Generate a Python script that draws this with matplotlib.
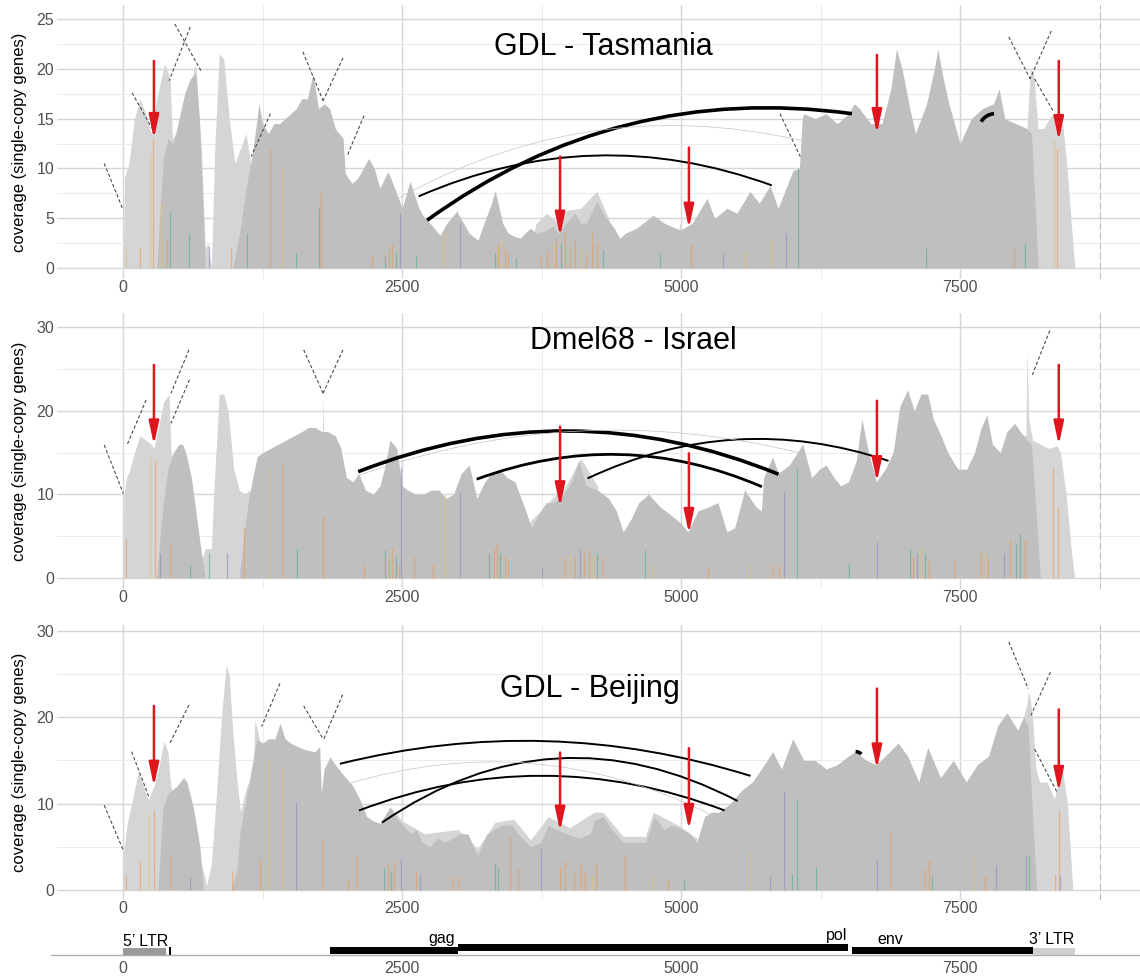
import matplotlib
matplotlib.use("Agg")
import matplotlib.pyplot as plt
from matplotlib.patches import FancyArrowPatch, Rectangle

plt.rcParams['font.family'] = ['Liberation Sans', 'DejaVu Sans']

# coverage along the element: (position bp, coverage)
# dark = uniquely placed reads, light = all reads
tas_dark = [(0, 0), (300, 0), (330, 6), (360, 11), (400, 13), (450, 12.5), (500, 15), (550, 17.5), (600, 19),
            (650, 19.5), (680, 15), (700, 10), (735, 0), (980, 0), (1000, 1), (1050, 4), (1100, 8), (1150, 11),
            (1200, 15), (1215, 16.5), (1250, 14.5), (1300, 13.5), (1350, 14.5), (1400, 14.5), (1450, 15),
            (1500, 15.5), (1550, 16), (1600, 17), (1650, 17), (1700, 19.5), (1750, 16), (1800, 16.5), (1850, 16),
            (1900, 14), (1970, 13), (1990, 9.5), (2050, 8.5), (2100, 9), (2150, 10), (2200, 11), (2250, 10),
            (2300, 8), (2373, 9.7), (2450, 7.5), (2500, 6), (2570, 8.7), (2650, 6),
            (2700, 5), (2750, 4.5), (2839, 3.3), (2900, 4.5), (2990, 5.7), (3050, 4.5),
            (3100, 3.5), (3180, 2.8), (3250, 5), (3300, 6.5), (3333, 7.8), (3400, 4.5), (3450, 3.5),
            (3500, 3.2), (3556, 3.0), (3600, 3.5), (3650, 4), (3700, 3.5), (3795, 3.8), (3850, 4.2),
            (3900, 3.5), (3975, 4.6), (4050, 5.5), (4100, 4.5), (4150, 4.5), (4244, 6.7),
            (4300, 5.5), (4400, 4), (4452, 3.0), (4500, 3.5), (4600, 4), (4750, 5.3), (4850, 4.5), (4990, 3.8),
            (5100, 4.5), (5232, 7.0), (5300, 5), (5411, 6.0), (5500, 5.5), (5617, 7.7), (5700, 6.5),
            (5797, 8.3), (5869, 6.0), (5940, 8), (6003, 9.8), (6060, 10), (6085, 15), (6100, 15.5), (6200, 15),
            (6300, 15.5), (6400, 14.5), (6500, 15.5), (6550, 16.5), (6600, 16), (6700, 14.5), (6800, 14.5),
            (6880, 18), (6930, 22), (6980, 20), (7050, 16), (7100, 13.5), (7200, 16.5), (7270, 20), (7300, 22),
            (7350, 19), (7400, 16.5), (7500, 12.5), (7600, 15), (7700, 16), (7800, 16.5), (7850, 18), (7900, 15),
            (8000, 14.5), (8100, 14), (8140, 13.5), (8200, 0), (8530, 0)]
tas_light = [(0, 0), (10, 9), (50, 10.5), (100, 15), (150, 17), (200, 15.5), (250, 13.5), (300, 17), (370, 20.5),
             (420, 19), (440, 13), (470, 13.5), (500, 14), (600, 18.5), (650, 20.5), (700, 12), (735, 2),
             (760, 2.5), (790, 0), (820, 12), (860, 21.5), (900, 21), (950, 15), (1000, 10.5), (1050, 12),
             (1100, 13.5), (1150, 10), (1200, 12.5), (1250, 0), (2900, 0), (2990, 6), (3080, 0), (3600, 0),
             (3700, 4.5), (3795, 5.5), (3900, 4.5), (3975, 5.8), (4100, 6), (4244, 7.7), (4350, 5), (4420, 0),
             (4900, 0), (4990, 4.5), (5080, 0), (8050, 0), (8100, 14), (8130, 20), (8160, 19.5),
             (8200, 14), (8250, 14), (8300, 15), (8335, 15.5), (8380, 13.5), (8420, 14.5), (8460, 10),
             (8500, 4), (8530, 0)]

isr_dark = [(0, 0), (300, 0), (330, 5), (360, 9), (400, 13), (450, 15), (500, 16), (530, 16), (560, 15),
            (610, 12), (660, 7), (700, 3), (736, 0), (1038, 0), (1080, 5), (1130, 10), (1200, 14.5), (1250, 15),
            (1320, 15.5), (1390, 16), (1460, 16.5), (1530, 17), (1600, 17.5), (1660, 18), (1720, 18),
            (1780, 17.5), (1830, 17.5), (1900, 17), (1950, 15.5), (2000, 12), (2060, 11.5), (2110, 12.5),
            (2170, 10.5), (2240, 10), (2300, 11), (2340, 13), (2390, 16.5), (2450, 15.5), (2500, 11),
            (2550, 10.5), (2620, 10), (2690, 10), (2760, 10.5), (2830, 10.5), (2890, 9.5), (2960, 10),
            (3030, 12.5), (3100, 13.5), (3170, 9.5), (3240, 11.5), (3300, 12.5), (3370, 13), (3440, 12),
            (3510, 11.5), (3580, 9), (3660, 6), (3720, 7.5), (3790, 9), (3850, 9), (3920, 9.5), (4020, 11.5),
            (4080, 14), (4150, 11), (4250, 10.5), (4350, 9.5), (4420, 8), (4480, 5.5), (4550, 7), (4620, 9),
            (4710, 10), (4810, 8.5), (4910, 7.5), (5000, 6.5), (5060, 5.5), (5150, 8), (5250, 8.5), (5330, 9),
            (5410, 5.5), (5480, 6), (5570, 10.5), (5670, 8.5), (5720, 8), (5740, 12), (5820, 14.5),
            (5870, 12.5), (5970, 13.5), (6090, 16), (6170, 12), (6240, 13), (6300, 13.5), (6370, 12),
            (6430, 11), (6500, 11.5), (6570, 14), (6620, 19), (6680, 15), (6750, 11.5), (6830, 13), (6900, 15),
            (6960, 20.5), (7030, 22.5), (7090, 20), (7150, 22), (7210, 22), (7260, 19), (7330, 17), (7390, 15),
            (7480, 13), (7560, 13), (7630, 15), (7690, 18), (7740, 19.5), (7790, 16), (7860, 15), (7920, 17.5),
            (7990, 18.5), (8040, 17.5), (8100, 16.5), (8140, 16), (8220, 0), (8530, 0)]
isr_light = [(0, 0), (5, 10), (30, 12), (60, 13), (100, 15), (150, 17), (200, 16.5), (250, 16), (275, 15.5),
             (300, 17), (360, 21), (410, 22), (428, 15), (450, 14), (700, 2), (736, 3.5), (790, 3.5), (810, 10),
             (860, 22), (900, 22), (940, 20), (990, 13), (1040, 10.5), (1090, 10), (1130, 10.5), (1180, 0),
             (1760, 0), (1785, 17), (1791, 22), (1797, 17), (1820, 0), (3600, 0), (3650, 6.8), (3850, 9.6),
             (3950, 10.6), (4100, 14.3), (4250, 11), (4330, 0), (4600, 0), (4700, 10.5), (4800, 0),
             (5500, 0), (5570, 11), (5620, 0), (7950, 0), (8000, 17.5), (8090, 17),
             (8100, 27.3), (8115, 19), (8150, 16.5), (8220, 16), (8290, 15.5), (8370, 15.8), (8400, 15),
             (8450, 10), (8500, 3), (8525, 0)]

bei_dark = [(0, 0), (310, 0), (335, 5), (357, 9.6), (401, 11.2), (480, 12), (540, 13), (570, 12.5), (627, 9.6),
            (687, 5), (717, 0), (966, 0), (1020, 2.5), (1046, 6.6), (1100, 10.5), (1136, 13.1), (1196, 17.4),
            (1250, 17), (1300, 17.5), (1360, 17.5), (1405, 19.3), (1450, 17.5), (1500, 17), (1560, 16.6),
            (1640, 16.2), (1720, 16), (1760, 16.6), (1775, 11.2), (1800, 14), (1853, 15.4), (1900, 14.5),
            (1960, 13.5), (2060, 12), (2120, 10.5), (2182, 8.5), (2240, 8), (2301, 7.7), (2391, 9.6),
            (2439, 8.5), (2507, 7.5), (2576, 6.5), (2627, 7),
            (2678, 5.5), (2747, 5), (2815, 6), (2884, 5.5), (2952, 6), (3021, 6.5), (3089, 6.5), (3175, 4),
            (3261, 6.5), (3329, 7), (3398, 7.5), (3483, 7.5), (3569, 6), (3654, 5), (3740, 5.5), (3809, 7.5),
            (3877, 7), (3980, 6.5), (4083, 6), (4185, 6.5), (4220, 8), (4300, 8.5), (4380, 7), (4480, 5.5),
            (4580, 5.5), (4680, 5.5), (4760, 8.5), (4845, 7), (4910, 7.5), (5010, 7), (5076, 6.5), (5140, 5.5),
            (5210, 8.5), (5270, 9), (5340, 9), (5440, 10), (5540, 11.5), (5640, 12.5), (5720, 14), (5820, 16),
            (5900, 14), (6000, 17.5), (6100, 15), (6200, 15), (6300, 14), (6400, 14.5), (6500, 15.5),
            (6560, 16), (6660, 15), (6750, 14.5), (6830, 15.5), (6945, 17), (7030, 15.5), (7130, 12.5),
            (7210, 16.5), (7325, 13), (7440, 15), (7555, 12.5), (7655, 14.5), (7755, 15.5), (7837, 19),
            (7920, 20.5), (8018, 18.5), (8068, 20), (8110, 19), (8185, 0), (8530, 0)]
bei_light = [(0, 0), (5, 4.6), (40, 8), (75, 10), (135, 13.7), (180, 12), (224, 10.4), (274, 12),
             (315, 14), (365, 17.2), (400, 16), (418, 13), (450, 10), (700, 3), (730, 1.5), (747, 0.5), (790, 3),
             (829, 10), (880, 20), (921, 26), (949, 25), (983, 18), (1017, 13), (1051, 9), (1086, 11),
             (1120, 12.5), (1154, 9), (1180, 19.7), (1212, 18), (1240, 16), (1290, 0), (2330, 0), (2400, 9.5),
             (2500, 8), (2700, 6.5), (3000, 7), (3175, 4.8), (3330, 7.8), (3500, 8.2), (3650, 5.8), (3810, 8.5),
             (4000, 7.2), (4220, 9), (4300, 9), (4480, 6.2), (4680, 6.2), (4750, 9), (5000, 7.3), (5140, 6),
             (5200, 0), (8000, 0), (8068, 20), (8100, 21.5), (8111, 23), (8130, 22), (8150, 20), (8180, 14),
             (8214, 12.5), (8280, 12.5), (8346, 10.5), (8412, 14.5), (8462, 10), (8511, 0)]

# variant frequencies: (position, coverage, base class)
tas_snp = [(24, 2, 'y'), (147, 2, 'o'), (240, 11.5, 'y'), (270, 13, 'o'), (342, 6.5, 'y'), (394, 3, 'o'),
           (418, 5.5, 'g'), (593, 3.5, 'g'), (770, 2.2, 'p'), (968, 2, 'o'), (1113, 3.5, 'g'), (1319, 12, 'o'),
           (1421, 10, 'y'), (1552, 1.5, 'g'), (1757, 6, 'g'), (1774, 7.5, 'o'), (2226, 1.3, 'o'),
           (2350, 1.2, 'g'), (2380, 1.8, 'o'), (2410, 2.5, 'o'), (2440, 1.5, 'g'), (2483, 5.5, 'p'),
           (2620, 1.2, 'g'), (2870, 3.5, 'y'), (3014, 4.5, 'p'), (3330, 1.5, 'g'), (3360, 2.5, 'o'),
           (3390, 3, 'y'), (3420, 2, 'o'), (3450, 1.5, 'o'), (3520, 1, 'g'), (3740, 1.2, 'o'), (3800, 1.8, 'o'),
           (3850, 2.5, 'y'), (3880, 3, 'o'), (3920, 2.5, 'g'), (3960, 3.5, 'o'), (4000, 2, 'o'), (4050, 3, 'o'),
           (4100, 2, 'y'), (4150, 1.5, 'o'), (4200, 3.5, 'o'), (4250, 2.5, 'o'), (4300, 1.8, 'g'),
           (4811, 1.5, 'g'), (5093, 2.5, 'o'), (5374, 1.5, 'p'), (5573, 1.5, 'y'), (5803, 3, 'y'),
           (5936, 3.5, 'p'), (6045, 10, 'g'), (7192, 2, 'g'), (7986, 2, 'o'), (8085, 2.5, 'g'),
           (8343, 13, 'y'), (8366, 12, 'o')]
isr_snp = [(24, 4.7, 'o'), (240, 14.5, 'y'), (281, 14, 'o'), (325, 3, 'p'), (418, 4.3, 'o'), (600, 1.5, 'g'),
           (770, 3, 'g'), (932, 3, 'p'), (1079, 6, 'o'), (1319, 13, 'y'), (1421, 13.5, 'o'), (1558, 3.5, 'g'),
           (1791, 7.5, 'o'), (2158, 1.5, 'o'), (2346, 3.3, 'g'), (2380, 2.5, 'o'), (2410, 3.5, 'o'),
           (2440, 2.5, 'g'), (2470, 1.5, 'o'), (2493, 13.3, 'p'), (2610, 2.5, 'o'), (2774, 1.5, 'o'),
           (2884, 10, 'y'), (3021, 10.3, 'p'), (3280, 3, 'g'), (3320, 3.5, 'o'), (3350, 4, 'o'), (3380, 3, 'g'),
           (3420, 2.5, 'o'), (3450, 2, 'o'), (3750, 1.3, 'p'), (3960, 2.5, 'o'), (4000, 3, 'y'),
           (4050, 2.5, 'o'), (4090, 3.5, 'p'), (4130, 3, 'o'), (4170, 3.5, 'o'), (4210, 2.5, 'y'),
           (4250, 3, 'g'), (4290, 2.5, 'o'), (4676, 3.3, 'g'), (4749, 1.5, 'y'), (5245, 1.3, 'o'),
           (5625, 1.5, 'y'), (5823, 1.5, 'o'), (5880, 1.5, 'o'), (5923, 10.3, 'p'), (6039, 13, 'g'),
           (6501, 1.7, 'g'), (6756, 4.3, 'p'), (7048, 3.5, 'g'), (7080, 2.5, 'o'), (7110, 3, 'p'),
           (7150, 3.5, 'y'), (7190, 3, 'g'), (7220, 2, 'o'), (7444, 2.3, 'o'), (7692, 3, 'o'), (7720, 3, 'y'),
           (7750, 2.5, 'o'), (7890, 3, 'p'), (7950, 4.5, 'o'), (8000, 4, 'g'), (8040, 5.2, 'g'),
           (8080, 4.5, 'o'), (8337, 13.3, 'o'), (8380, 8.5, 'o')]
bei_snp = [(24, 1.7, 'o'), (151, 3.3, 'o'), (229, 8.9, 'y'), (274, 9.3, 'o'), (418, 3.9, 'o'), (600, 1.5, 'p'),
           (973, 2.1, 'o'), (1223, 3.7, 'o'), (1308, 15, 'y'), (1421, 14.3, 'y'), (1548, 10.2, 'p'),
           (1781, 5.8, 'o'), (2010, 1.2, 'o'), (2096, 3.9, 'o'), (2340, 2.5, 'g'), (2370, 3, 'o'),
           (2400, 2.2, 'g'), (2430, 3.4, 'o'), (2490, 3.5, 'p'), (2627, 2.3, 'o'), (2661, 1.9, 'p'),
           (2955, 1.5, 'o'), (3000, 1.5, 'o'), (3329, 3.1, 'g'), (3363, 2.7, 'g'), (3466, 6.2, 'o'),
           (3534, 2.7, 'o'), (3740, 4.8, 'p'), (3910, 2.5, 'o'), (3960, 3.5, 'o'), (4040, 2, 'o'),
           (4100, 3, 'o'), (4140, 2, 'o'), (4200, 1.8, 'y'), (4240, 3, 'o'), (4501, 4, 'o'), (4745, 1.7, 'y'),
           (4878, 1.2, 'o'), (5026, 1.2, 'g'), (5628, 4.5, 'y'), (5794, 1.5, 'p'), (5919, 11.4, 'p'),
           (5992, 1.9, 'g'), (6042, 10.5, 'g'), (6210, 2.7, 'g'), (6756, 3.5, 'p'), (6872, 6.8, 'o'),
           (7190, 2.5, 'o'), (7220, 3.5, 'o'), (7250, 1.5, 'g'), (7622, 3.9, 'y'), (7722, 1.6, 'o'),
           (7821, 2.9, 'p'), (8092, 4.1, 'p'), (8118, 3.9, 'g'), (8350, 1.9, 'o'), (8383, 9.3, 'o'),
           (8400, 1.6, 'p')]

# split reads joining two positions: (start, cov, end, cov)
tas_arcs = [(2723, 4.8, 6531, 15.5), (2648, 7.2, 5813, 8.3), (2312, 6.0, 6085, 12.8), (7689, 14.7, 7804, 15.5)]
isr_arcs = [(2106, 12.7, 5873, 12.4), (3168, 11.8, 5724, 10.9), (4161, 11.9, 6859, 14.0), (2100, 12.2, 6050, 15.0)]
bei_arcs = [(1942, 14.6, 5622, 13.2), (2113, 9.2, 5390, 9.2), (2319, 7.8, 5506, 10.3), (6564, 16.0, 6614, 15.7),
            (1990, 12.2, 5300, 8.5)]

# insertion breakpoints (dashed pointers)
tas_dash = [(-171, 10.5, -7, 6.0), (79, 17.6, 274, 13.7), (462, 24.5, 702, 19.7), (600, 24.2, 411, 18.8),
            (1610, 21.7, 1791, 16.8), (1969, 21.1, 1791, 16.8), (2158, 15.3, 2004, 11.2), (1319, 15.5, 1147, 11.2),
            (5886, 15.5, 6068, 11.2), (7937, 23.2, 8128, 19.0), (8317, 23.8, 8128, 19.0), (8168, 19.0, 8333, 15.8)]
isr_dash = [(-171, 15.9, 0, 10.1), (205, 21.3, 34, 15.9), (589, 27.3, 428, 22.1), (593, 23.7, 428, 18.5),
            (1617, 27.3, 1791, 22.1), (1969, 27.3, 1791, 22.1), (8304, 29.6, 8148, 24.3)]
bei_dash = [(-171, 9.8, 0, 4.6), (75, 16, 229, 10.8), (589, 21.4, 418, 17), (1617, 21.3, 1795, 17.4),
            (1966, 22.6, 1795, 17.4), (1404, 23.9, 1240, 18.9), (7937, 28.7, 8112, 23.3), (8310, 25.2, 8135, 20.2),
            (8168, 16.3, 8366, 11.4)]

# marked sites (red arrows)
arrow_pos = [275, 3915, 5070, 6755, 8385]
tas_arrow_top = [20.8, 11.2, 12.1, 21.4, 20.8]
tas_arrow_tip = [13.0, 3.2, 4.0, 13.5, 12.8]
isr_arrow_top = [25.5, 18.1, 14.9, 21.2, 25.5]
isr_arrow_tip = [15.9, 8.5, 5.3, 11.5, 15.9]
bei_arrow_top = [21.3, 15.9, 16.4, 23.3, 20.9]
bei_arrow_tip = [12.0, 6.8, 7.0, 14.0, 11.4]

# element annotation
gene_names = ['5\u2019 LTR', 'gag', 'pol', 'env', '3\u2019 LTR']
gene_start = [0, 1853, 3003, 6535, 8157]
gene_end = [385, 3003, 6499, 8157, 8531]

snp_colors = {'o': '#ec9a55', 'y': '#e2c46c', 'g': '#55ad8c', 'p': '#8b8bc6'}
DARK = '#bfbfbf'
LIGHT = '#d5d5d5'
RED = '#e0161e'
TICK = '#505050'
XMIN, XMAX = -594, 9113


def style_axes(ax, ymaj, ymin):
    ax.set_xlim(XMIN, XMAX)
    ax.set_xticks([0, 2500, 5000, 7500])
    ax.set_xticks([1250, 3750, 6250, 8750], minor=True)
    ax.set_yticks(ymaj)
    ax.set_yticks(ymin, minor=True)
    ax.grid(which='major', color='#d6d6d6', lw=1.0)
    ax.grid(which='minor', color='#ebebeb', lw=0.7)
    ax.set_axisbelow(True)
    for s in ax.spines.values():
        s.set_visible(False)
    ax.tick_params(which='both', length=0, labelsize=11.5, labelcolor=TICK)
    ax.tick_params(axis='x', pad=1)
    ax.tick_params(axis='y', pad=2)


def draw_panel(ax, title, title_xy, dark, light, snps, arcs, arc_style, dashes, tops, tips):
    lx, ly = zip(*light)
    dx, dy = zip(*dark)
    ax.fill_between(lx, 0, ly, color=LIGHT, lw=0, zorder=1)
    ax.fill_between(dx, 0, dy, color=DARK, lw=0, zorder=1.1)

    pos, h, base = zip(*snps)
    ax.vlines(pos, 0, h, colors=[snp_colors[b] for b in base], lw=0.9, alpha=0.6, zorder=2)

    # dashed pointers and the light 8750 guide
    ax.axvline(8750, color='#bdbdbd', lw=0.8, ls=(0, (6, 3)), zorder=0.8)
    for x1, y1, x2, y2 in dashes:
        ax.plot([x1, x2], [y1, y2], color='#4a4a4a', lw=0.8, ls=(0, (3, 2)), zorder=3)

    for (x1, y1, x2, y2), (kind, rad) in zip(arcs, arc_style):
        lw, col = {'thick': (2.6, 'black'), 'mid': (2.0, 'black'),
                   'thin': (1.4, 'black'), 'faint': (0.5, '#c4c4c4')}[kind]
        p = FancyArrowPatch((x1, y1), (x2, y2), arrowstyle='-', connectionstyle='arc3,rad=%s' % rad,
                            lw=lw, color=col, shrinkA=0, shrinkB=0, zorder=4, capstyle='butt')
        ax.add_patch(p)

    for x, t, b in zip(arrow_pos, tops, tips):
        ax.annotate('', xy=(x, b), xytext=(x, t),
                    arrowprops=dict(arrowstyle='-|>,head_length=1.4,head_width=0.3', color=RED, lw=1.8,
                                    shrinkA=0, shrinkB=0, mutation_scale=10), zorder=5)

    ax.text(title_xy[0], title_xy[1], title, fontsize=22, ha='center', va='center', color='black', zorder=6)
    ax.set_ylabel('coverage (single-copy genes)', fontsize=12, color='black')
    ax.yaxis.set_label_coords(-0.028, 0.5)


def main():
    fig = plt.figure(figsize=(11.4, 9.76), dpi=100)

    ax1 = fig.add_axes([57 / 1140, 1 - 279 / 976, 1083 / 1140, 274 / 976])
    style_axes(ax1, [0, 5, 10, 15, 20, 25], [2.5, 7.5, 12.5, 17.5, 22.5])
    ax1.set_ylim(-1.1, 26.41)
    draw_panel(ax1, 'GDL - Tasmania', (4300, 22.2), tas_dark, tas_light, tas_snp, tas_arcs,
               [('thick', -0.2), ('thin', -0.2), ('faint', -0.2), ('thick', -0.25)],
               tas_dash, tas_arrow_top, tas_arrow_tip)

    ax2 = fig.add_axes([57 / 1140, 1 - 589 / 976, 1083 / 1140, 276 / 976])
    style_axes(ax2, [0, 10, 20, 30], [5, 15, 25])
    ax2.set_ylim(-1.35, 31.71)
    draw_panel(ax2, 'Dmel68 - Israel', (4569, 28.4), isr_dark, isr_light, isr_snp, isr_arcs,
               [('thick', -0.2), ('mid', -0.2), ('thin', -0.2), ('faint', -0.15)],
               isr_dash, isr_arrow_top, isr_arrow_tip)

    ax3 = fig.add_axes([57 / 1140, 1 - 900 / 976, 1083 / 1140, 275 / 976])
    style_axes(ax3, [0, 10, 20, 30], [5, 15, 25])
    ax3.set_ylim(-1.16, 30.66)
    draw_panel(ax3, 'GDL - Beijing', (4183, 23.3), bei_dark, bei_light, bei_snp, bei_arcs,
               [('thin', -0.14), ('thin', -0.19), ('thin', -0.3), ('thick', -0.3), ('faint', -0.2)],
               bei_dash, bei_arrow_top, bei_arrow_tip)

    # gene model track
    axg = fig.add_axes([51 / 1140, 21 / 976, 1089 / 1140, 30 / 976])
    axg.set_xlim(-648, XMAX)
    axg.set_ylim(0, 30)
    for s in ['top', 'right', 'left']:
        axg.spines[s].set_visible(False)
    axg.spines['bottom'].set_color('#b0b0b0')
    axg.spines['bottom'].set_linewidth(1.0)
    axg.set_yticks([])
    axg.set_xticks([0, 2500, 5000, 7500])
    axg.tick_params(length=0, labelsize=11.5, labelcolor=TICK, pad=4)
    axg.patch.set_alpha(0)

    box_y = {'5\u2019 LTR': (0, 6.7, '#9a9a9a'), 'gag': (1, 7.3, 'black'), 'pol': (3.7, 7.3, 'black'),
             'env': (1, 7.3, 'black'), '3\u2019 LTR': (0, 6.7, '#cfcfcf')}
    for name, a, b in zip(gene_names, gene_start, gene_end):
        y0, hgt, col = box_y[name]
        axg.add_patch(Rectangle((a, y0), b - a, hgt, color=col, lw=0, zorder=3))
    axg.add_patch(Rectangle((410, 0.3), 20, 7.4, color='black', lw=0, zorder=3))

    lab = dict(fontsize=11.5, color='black', va='baseline')
    axg.text(203, 9, gene_names[0], ha='center', **lab)
    axg.text(2973, 12, gene_names[1], ha='right', **lab)
    axg.text(6487, 15, gene_names[2], ha='right', **lab)
    axg.text(6756, 11, gene_names[3], ha='left', **lab)
    axg.text(8325, 11, gene_names[4], ha='center', **lab)

    fig.savefig('out.png', dpi=100)


if __name__ == "__main__":
    main()
